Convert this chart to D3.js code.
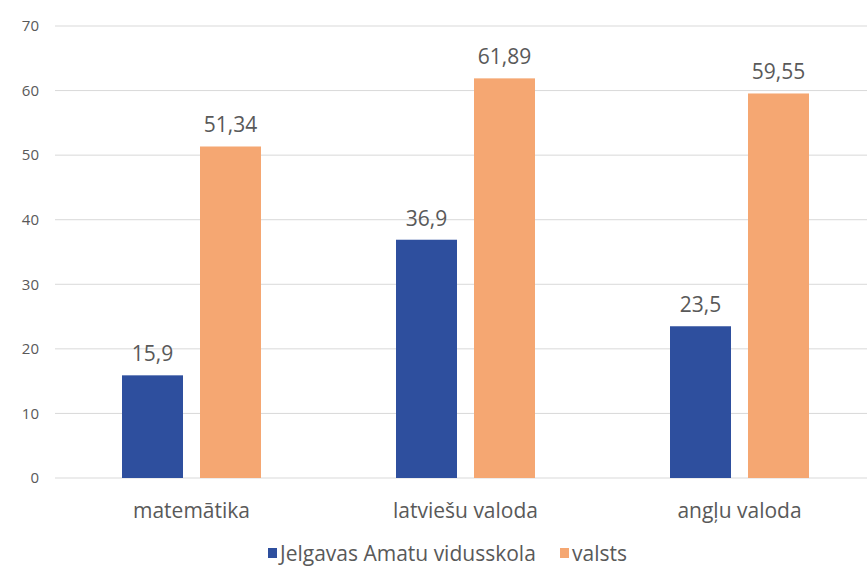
<!DOCTYPE html>
<html><head><meta charset="utf-8">
<script src="https://cdn.jsdelivr.net/npm/d3@7"></script>
<style>body{margin:0;background:#fff}svg{display:block}text{font-family:"Open Sans",sans-serif;fill:#595959}</style>
</head><body>
<svg id="c" width="867" height="566"></svg>
<script>
const categories = ["matemātika", "latviešu valoda", "angļu valoda"];
const seriesNames = ["Jelgavas Amatu vidusskola", "valsts"];
const school = [15.9, 36.9, 23.5];
const country = [51.34, 61.89, 59.55];
const labelsSchool = ["15,9", "36,9", "23,5"];
const labelsCountry = ["51,34", "61,89", "59,55"];
const yTicks = [0, 10, 20, 30, 40, 50, 60, 70];
const colors = ["#2e4f9e", "#f5a772"];

const svg = d3.select("#c");
const x = d3.scaleBand().domain(categories).range([54.5, 876.5]);
const y = d3.scaleLinear().domain([0, 70]).range([478, 26]);
const inner = d3.scaleBand().domain([0, 1]).range([0, 139]).paddingInner(17 / 78);

// gridlines
svg.append("g").selectAll("line").data(yTicks).join("line")
  .attr("x1", 55).attr("x2", 867)
  .attr("y1", d => y(d)).attr("y2", d => y(d))
  .attr("stroke", "#d9d9d9").attr("stroke-width", 1);

// y labels
svg.append("g").selectAll("text").data(yTicks).join("text")
  .attr("x", 39).attr("y", d => y(d)).attr("dy", "0.35em")
  .attr("text-anchor", "end").attr("font-size", 15)
  .text(d => d);

const series = [school, country];
const labels = [labelsSchool, labelsCountry];
series.forEach((vals, s) => {
  const g = svg.append("g");
  g.selectAll("rect").data(categories).join("rect")
    .attr("x", (c) => x(c) + (x.bandwidth() - 139) / 2 + inner(s))
    .attr("width", inner.bandwidth())
    .attr("y", (c, i) => y(vals[i]))
    .attr("height", (c, i) => y(0) - y(vals[i]))
    .attr("fill", colors[s]);
  g.selectAll("text").data(categories).join("text")
    .attr("x", (c) => x(c) + (x.bandwidth() - 139) / 2 + inner(s) + inner.bandwidth() / 2)
    .attr("y", (c, i) => y(vals[i]) - 14)
    .attr("text-anchor", "middle").attr("font-size", 21)
    .text((c, i) => labels[s][i]);
});

// category labels
svg.append("g").selectAll("text").data(categories).join("text")
  .attr("x", c => x(c) + x.bandwidth() / 2)
  .attr("y", 518)
  .attr("text-anchor", "middle").attr("font-size", 21)
  .text(c => c);

// legend
const leg = svg.append("g");
const legX = [268, 560];
seriesNames.forEach((n, i) => {
  leg.append("rect").attr("x", legX[i]).attr("y", 548).attr("width", 9).attr("height", 10).attr("fill", colors[i]);
  leg.append("text").attr("x", legX[i] + 12).attr("y", 561).attr("font-size", 21).text(n);
});
</script>
</body></html>
